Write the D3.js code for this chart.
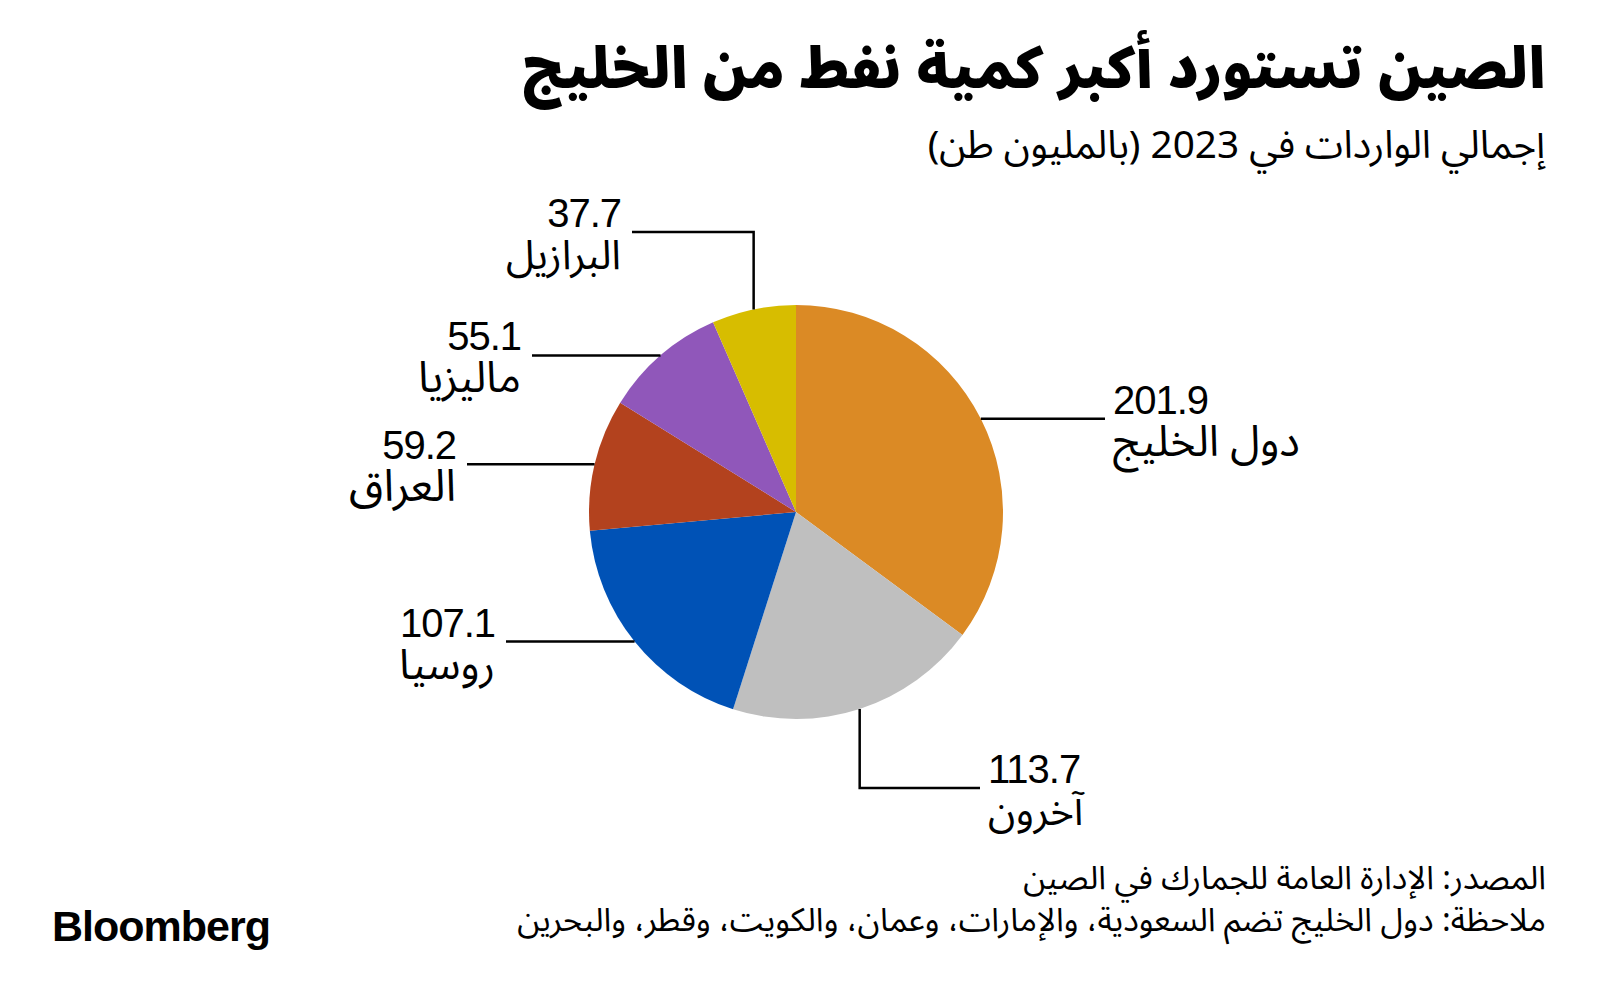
<!DOCTYPE html>
<html>
<head>
<meta charset="utf-8">
<script src="https://cdn.jsdelivr.net/npm/d3@7"></script>
<style>
  html, body { margin: 0; padding: 0; background: #fff; }
  svg { display: block; }
</style>
</head>
<body>
<svg id="chart" width="1600" height="1007"></svg>
<script>
// ---- Data ----
const categories = ["دول الخليج", "آخرون", "روسيا", "العراق", "ماليزيا", "البرازيل"];
const values = [201.9, 113.7, 107.1, 59.2, 55.1, 37.7];
const valueLabels = ["201.9", "113.7", "107.1", "59.2", "55.1", "37.7"];
const colors = ["#DB8A25", "#BFBFBF", "#0052B6", "#B3421E", "#9057BA", "#D7BD00"];

const titleText = "الصين تستورد أكبر كمية نفط من الخليج";
const subtitleText = "إجمالي الواردات في 2023 (بالمليون طن)";
const sourceText = "المصدر: الإدارة العامة للجمارك في الصين";
const noteText = "ملاحظة: دول الخليج تضم السعودية، والإمارات، وعمان، والكويت، وقطر، والبحرين";

// ---- Layout ----
const W = 1600, H = 1007;
const cx = 796, cy = 512, R = 207;
const arabicFont = "'Noto Sans Arabic', 'DejaVu Sans', sans-serif";
const latinFont = "'Liberation Sans', Arial, Helvetica, sans-serif";

// Leader-line layouts (elbow type and end point), per slice index
const leaders = [
  { type: "h", endX: 1105, side: "right" },                 // Gulf
  { type: "v", elbowY: 788, endX: 980, side: "right" },     // Others
  { type: "h", endX: 506, side: "left" },                   // Russia
  { type: "h", endX: 467, side: "left" },                   // Iraq
  { type: "h", endX: 532, side: "left" },                   // Malaysia
  { type: "v", elbowY: 232, endX: 632, side: "left" }       // Brazil
];
const nameWidths = [187, 97, 96, 107, 103, 115];

const svg = d3.select("#chart");

function fitText(sel, targetW) {
  const node = sel.node();
  const fs = parseFloat(sel.attr("font-size"));
  const w = node.getBBox().width;
  if (w > 0) sel.attr("font-size", fs * targetW / w);
}
function alignRight(sel, rightX) {
  const b = sel.node().getBBox();
  const x = parseFloat(sel.attr("x"));
  sel.attr("x", x + (rightX - (b.x + b.width)));
}
function alignLeft(sel, leftX) {
  const b = sel.node().getBBox();
  const x = parseFloat(sel.attr("x"));
  sel.attr("x", x + (leftX - b.x));
}

// ---- Title & subtitle ----
const title = svg.append("text")
  .attr("x", 1546).attr("y", 88)
  .attr("direction", "rtl")
  .attr("font-family", arabicFont).attr("font-weight", 900)
  .attr("font-size", 58).attr("fill", "#000")
  .text(titleText);
fitText(title, 1024); alignRight(title, 1546);

const subtitle = svg.append("text")
  .attr("x", 1546).attr("y", 158)
  .attr("direction", "rtl")
  .attr("font-family", arabicFont).attr("font-weight", 400)
  .attr("font-size", 32).attr("fill", "#000")
  .text(subtitleText);
fitText(subtitle, 619); alignRight(subtitle, 1546);

// ---- Pie ----
const pie = d3.pie().sort(null).value(d => d);
const arcs = pie(values);
const arc = d3.arc().innerRadius(0).outerRadius(R);
const edgeArc = d3.arc().innerRadius(R).outerRadius(R);

const g = svg.append("g").attr("transform", `translate(${cx},${cy})`);
g.selectAll("path.slice")
  .data(arcs)
  .join("path")
  .attr("class", "slice")
  .attr("d", arc)
  .attr("fill", (d, i) => colors[i]);

// ---- Leader lines & labels ----
arcs.forEach((d, i) => {
  const [ex, ey] = edgeArc.centroid(d);
  const sx = cx + ex, sy = cy + ey;
  const L = leaders[i];
  let pts, lineY;
  if (L.type === "h") {
    pts = [[sx, sy], [L.endX, sy]];
    lineY = sy;
  } else {
    pts = [[sx, sy], [sx, L.elbowY], [L.endX, L.elbowY]];
    lineY = L.elbowY;
  }
  svg.append("path")
    .attr("d", d3.line()(pts))
    .attr("fill", "none").attr("stroke", "#000").attr("stroke-width", 2.5);

  const gap = 8;
  const num = svg.append("text")
    .attr("x", 0).attr("y", lineY - 5)
    .attr("font-family", latinFont).attr("font-size", 40).attr("fill", "#000")
    .attr("letter-spacing", -1)
    .text(valueLabels[i]);
  const name = svg.append("text")
    .attr("x", 0).attr("y", lineY + 37)
    .attr("direction", "rtl")
    .attr("font-family", arabicFont).attr("font-size", 36).attr("fill", "#000")
    .text(categories[i]);
  fitText(name, nameWidths[i]);
  if (L.side === "right") {
    alignLeft(num, L.endX + gap);
    alignLeft(name, L.endX + gap);
  } else {
    alignRight(num, L.endX - gap - 3);
    alignRight(name, L.endX - gap - 3);
  }
});

// ---- Footer ----
const src = svg.append("text")
  .attr("x", 1546).attr("y", 889)
  .attr("direction", "rtl")
  .attr("font-family", arabicFont).attr("font-size", 26).attr("fill", "#000")
  .text(sourceText);
fitText(src, 523); alignRight(src, 1546);

const note = svg.append("text")
  .attr("x", 1546).attr("y", 931)
  .attr("direction", "rtl")
  .attr("font-family", arabicFont).attr("font-size", 26).attr("fill", "#000")
  .text(noteText);
fitText(note, 1029); alignRight(note, 1546);

svg.append("text")
  .attr("x", 52).attr("y", 941)
  .attr("font-family", latinFont).attr("font-weight", 700)
  .attr("font-size", 43).attr("fill", "#000")
  .attr("textLength", 218).attr("lengthAdjust", "spacingAndGlyphs")
  .attr("letter-spacing", -1)
  .text("Bloomberg");
</script>
</body>
</html>
